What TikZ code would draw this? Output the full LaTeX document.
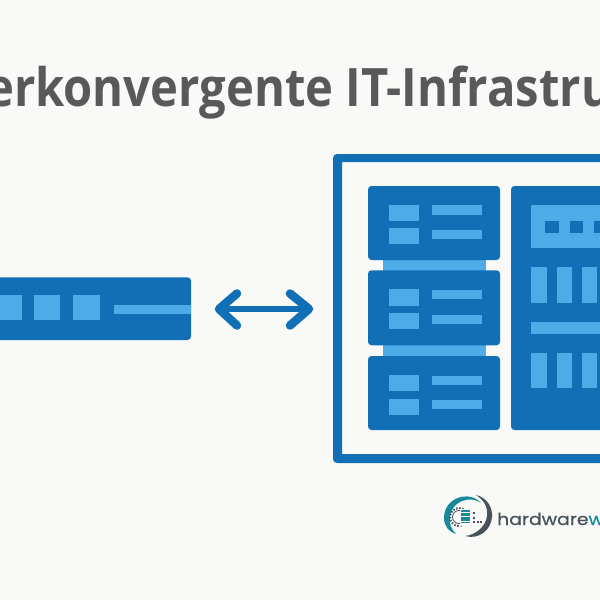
\documentclass[tikz,border=0pt]{standalone}
\usepackage{fontspec}
\setmainfont{Open Sans}
\newfontfamily\logofont[FakeBold=0.6]{Poppins}
\definecolor{bgc}{HTML}{F9F9F7}
\definecolor{darkb}{HTML}{1170B5}
\definecolor{lightb}{HTML}{4DABE8}
\definecolor{titlec}{HTML}{595959}
\definecolor{teal}{HTML}{17899B}
\definecolor{logog}{HTML}{47525A}
\tikzset{
  dk/.style={fill=darkb,draw=none},
  lt/.style={fill=lightb,draw=none},
  blade/.style={fill=darkb,draw=none,rounded corners=3.5pt},
  link/.style={draw=darkb,line width=6.5pt},
  chev/.style={draw=darkb,line width=8.5pt,line cap=round,line join=round},
}
\newcommand{\rackitems}[1]{%
  \begin{scope}[yshift=#1pt]
    \fill[lt] (389,-204.5) rectangle (419,-220.7);
    \fill[lt] (389,-228.3) rectangle (419,-244.3);
    \fill[lt] (432,-205.3) rectangle (482.3,-214.5);
    \fill[lt] (432,-229.7) rectangle (482.3,-238.7);
  \end{scope}}
\begin{document}
\begin{tikzpicture}[x=1pt,y=1pt]
\useasboundingbox (0,-600) rectangle (600,0);
\clip (0,-600) rectangle (600,0);
\fill[bgc] (0,-600) rectangle (600,0);

% title
\node[anchor=base west,inner sep=0pt,text=titlec,xscale=0.89,font=\fontsize{53}{53}\selectfont\bfseries] (title) at (-14,-106) {erkonvergente IT-Infrastru};

% left appliance
\fill[blade] (-20,-277.3) rectangle (191,-340);
\fill[lt] (-10,-295) rectangle (22,-320.3);
\fill[lt] (33.7,-295) rectangle (60.3,-320.3);
\fill[lt] (73.3,-295) rectangle (100,-320.3);
\fill[lt] (114.3,-304.7) rectangle (191,-314.3);

% double arrow
\coordinate (arrowL) at (219,-309);
\coordinate (arrowR) at (309,-309);
\draw[link] (arrowL) -- (arrowR);
\draw[chev] (237,-293.5) -- (arrowL) -- (237,-325.5);
\draw[chev] (290,-293.5) -- (arrowR) -- (290,-325.5);

% frame
\fill[darkb,even odd rule]
  [rounded corners=4pt] (333,-154) rectangle (660,-463)
  [sharp corners] (342,-162) rectangle (660,-454);

% connectors between servers
\fill[lt] (383,-258) rectangle (486,-272);
\fill[lt] (383,-343) rectangle (486,-358);

% server blades
\fill[blade] (368,-186) rectangle (500,-260);
\fill[blade] (368,-270.3) rectangle (500,-345.3);
\fill[blade] (368,-356) rectangle (500,-430);
\rackitems{0}
\rackitems{-84.8}
\rackitems{-170.3}

% storage panel
\fill[blade] (511,-186) rectangle (660,-430);
\fill[lt] (531,-205) rectangle (640,-248.3);
\fill[dk] (545.3,-220.7) rectangle (558.7,-232.7);
\fill[dk] (569.7,-220.7) rectangle (582.7,-232.7);
\fill[dk] (594,-220.7) rectangle (607,-232.7);
\foreach \a/\b in {531/546.7,557/571.7,582/596.7}{
  \fill[lt] (\a,-267.3) rectangle (\b,-303.3);
  \fill[lt] (\a,-352.7) rectangle (\b,-388.3);
}
\fill[lt] (531,-321.7) rectangle (640,-333.7);

% logo
\fill[teal] (481,-503) .. controls (470,-490) and (444,-497) .. (444,-518)
  .. controls (444,-526) and (449,-532) .. (456,-534)
  .. controls (451,-529) and (449,-523) .. (450,-517)
  .. controls (451,-501) and (471,-495) .. (481,-503) -- cycle;
\fill[logog] (476,-495) .. controls (486,-497) and (493,-507) .. (492,-517)
  .. controls (491,-530) and (479,-540) .. (465,-536)
  .. controls (476,-535) and (486,-526) .. (487,-516)
  .. controls (488,-507) and (484,-500) .. (476,-495) -- cycle;
\draw[logog,line width=0.8pt] (459,-517) circle (6.5pt);
\draw[logog,line width=2pt,dash pattern=on 1.5pt off 1.6pt] (459,-517) circle (9pt);
\fill[bgc] (460,-509) rectangle (482,-526);
\fill[teal] (461,-510) rectangle (470,-523);
\foreach \yy in {-512,-516.5,-521}{ \draw[bgc,line width=0.5pt] (461,\yy) -- (470,\yy); }
\foreach \xx/\yy in {473/-512,473/-516.5,473/-521,476.5/-521,480/-521}{
  \fill[logog] (\xx,\yy) rectangle +(2.2,-2.2);
}
\node[anchor=base west,inner sep=0pt,text=logog,xscale=1.14,font=\logofont\fontsize{16.5}{16.5}\selectfont] (logotext) at (497,-525) {hardware\textcolor{teal}{w}};
\end{tikzpicture}
\end{document}
